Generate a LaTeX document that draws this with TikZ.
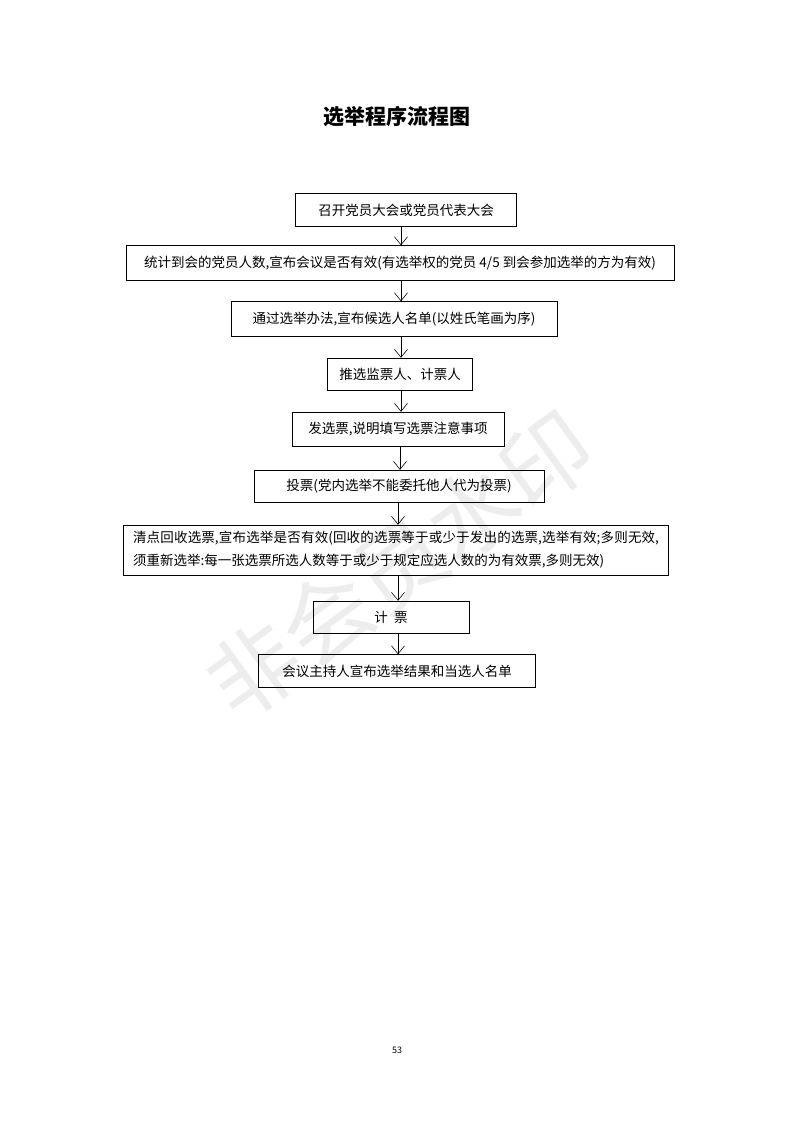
\documentclass[tikz,border=0pt]{standalone}
\usepackage{fontspec}
\setmainfont{Noto Sans CJK SC}
\XeTeXlinebreaklocale "zh"
\XeTeXlinebreakskip=0pt plus 1pt
\usetikzlibrary{arrows.meta}
\begin{document}
\begin{tikzpicture}[x=1pt,y=-1pt]
	\tikzstyle{stepbox} = [ draw, rectangle, thin, font={\fontsize{13.5}{23}\selectfont}, inner sep=0pt];
	\tikzstyle{flow} = [ -{Straight Barb[length=8pt,width=13pt]}, semithick ];

	\useasboundingbox (0,0) rectangle (793,1122);
	\fill[white] (0,0) rectangle (793,1122);

	\node[font={\fontsize{90}{90}\selectfont}, color=black!7, rotate=36] (wm) at (400,565) {非会员水印};

	\node[font={\fontsize{21}{21}\selectfont\bfseries}] (title) at (397,117) {选举程序流程图};

	\node[stepbox, minimum width=221pt, minimum height=33pt] (s1) at (406,210) {召开党员大会或党员代表大会};
	\node[stepbox, minimum width=548pt, minimum height=35pt] (s2) at (400,263) {统计到会的党员人数,宣布会议是否有效(有选举权的党员 4/5 到会参加选举的方为有效)};
	\node[stepbox, minimum width=326pt, minimum height=35pt] (s3) at (394,319) {通过选举办法,宣布候选人名单(以姓氏笔画为序)};
	\node[stepbox, minimum width=145pt, minimum height=32pt] (s4) at (400,374) {推选监票人、计票人};
	\node[stepbox, minimum width=212pt, minimum height=34pt] (s5) at (398,429) {发选票,说明填写选票注意事项};
	\node[stepbox, minimum width=290pt, minimum height=32pt] (s6) at (399,486) {投票(党内选举不能委托他人代为投票)};
	\node[stepbox, minimum width=545pt, minimum height=50pt, text width=526pt, align=justify] (s7) at (396,550) {清点回收选票,宣布选举是否有效(回收的选票等于或少于发出的选票,选举有效;多则无效,须重新选举:每一张选票所选人数等于或少于规定应选人数的为有效票,多则无效)};
	\node[stepbox, minimum width=156pt, minimum height=32pt] (s8) at (391,617) {计\ \ 票};
	\node[stepbox, minimum width=277pt, minimum height=33pt] (s9) at (397,671) {会议主持人宣布选举结果和当选人名单};

	\foreach \a/\b/\x in {s1/s2/401, s2/s3/401, s3/s4/401, s4/s5/401, s5/s6/400, s6/s7/398, s7/s8/398, s8/s9/398}
		\draw[flow] (\a.south -| \x,0) -- (\b.north -| \x,0);

	\node[font={\fontsize{9}{9}\selectfont}] (page) at (397,1050) {53};
\end{tikzpicture}
\end{document}
